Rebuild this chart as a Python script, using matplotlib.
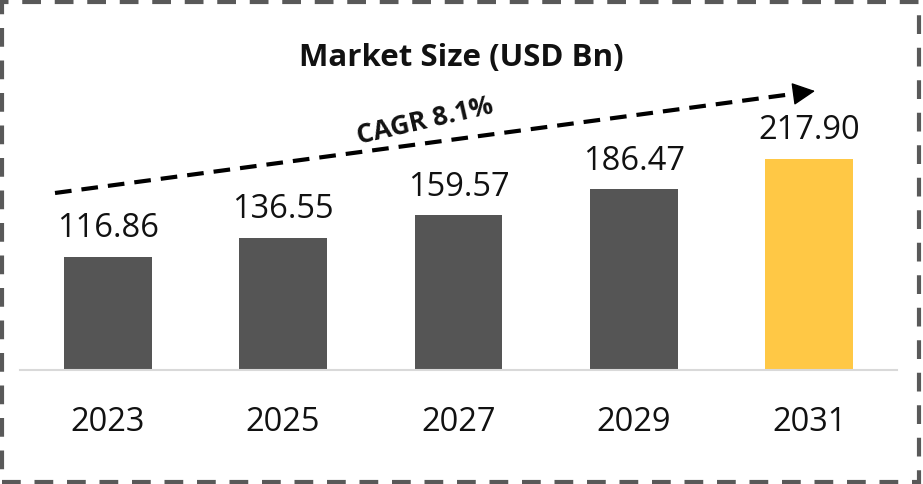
import matplotlib
matplotlib.use("Agg")
import matplotlib.pyplot as plt
from matplotlib.patches import Rectangle, FancyArrowPatch
from matplotlib.lines import Line2D

# ==========================================
# Data
# ==========================================
years = ["2023", "2025", "2027", "2029", "2031"]
market_size = [116.86, 136.55, 159.57, 186.47, 217.90]
bar_colors = ["#555555", "#555555", "#555555", "#555555", "#FFC845"]
title = "Market Size (USD Bn)"
cagr_label = "CAGR 8.1%"

plt.rcParams["font.family"] = ["Open Sans", "DejaVu Sans"]

W, H = 923, 485
fig = plt.figure(figsize=(W / 100, H / 100), dpi=100)
ax = fig.add_axes([20 / W, 114 / H, 877 / W, 351 / H])

x = range(len(years))
bars = ax.bar(x, market_size, width=0.5, color=bar_colors)

ax.set_xlim(-0.5, len(years) - 0.5)
ax.set_ylim(0, 362)

# value labels above the bars
for bar, val in zip(bars, market_size):
    ax.annotate(f"{val:.2f}", (bar.get_x() + bar.get_width() / 2, bar.get_height()),
                xytext=(0, 9), textcoords="offset points",
                ha="center", va="bottom", fontsize=23.5, color="#111111")

ax.set_xticks(list(x))
ax.set_xticklabels(years, fontsize=23.5, color="#111111")
ax.tick_params(axis="x", length=0, pad=25)
ax.set_yticks([])

for side in ["top", "left", "right"]:
    ax.spines[side].set_visible(False)
ax.spines["bottom"].set_color("#d9d9d9")
ax.spines["bottom"].set_linewidth(1.5)

# title
fig.text(0.5, 1 - 58 / H, title, ha="center", va="center",
         fontsize=22.5, fontweight="bold", color="#111111")

# dashed CAGR trend arrow (figure pixels -> fractions)
x0, y0 = 55, 194
x1, y1 = 815, 92
xs = x1 - (x1 - x0) * 0.02
ys = y1 - (y1 - y0) * 0.02
fig.add_artist(Line2D([x0 / W, xs / W], [1 - y0 / H, 1 - ys / H],
                      transform=fig.transFigure, color="black", linewidth=3,
                      linestyle=(0, (4, 2.4))))
fig.add_artist(FancyArrowPatch((xs / W, 1 - ys / H), (x1 / W, 1 - y1 / H),
                               transform=fig.transFigure,
                               arrowstyle="-|>,head_length=0.8,head_width=0.4",
                               mutation_scale=18, color="black", linewidth=1,
                               shrinkA=0, shrinkB=0))
fig.text(425 / W, 1 - 121 / H, cagr_label, ha="center", va="center",
         rotation=13, fontsize=19, fontweight="bold", color="#111111")

# dashed border around the chart
fig.add_artist(Rectangle((2 / W, 2 / H), 917 / W, 480 / H,
                         transform=fig.transFigure, fill=False,
                         edgecolor="#595959", linewidth=3,
                         linestyle=(0, (4.5, 3.3))))

fig.savefig("out.png", dpi=100)
